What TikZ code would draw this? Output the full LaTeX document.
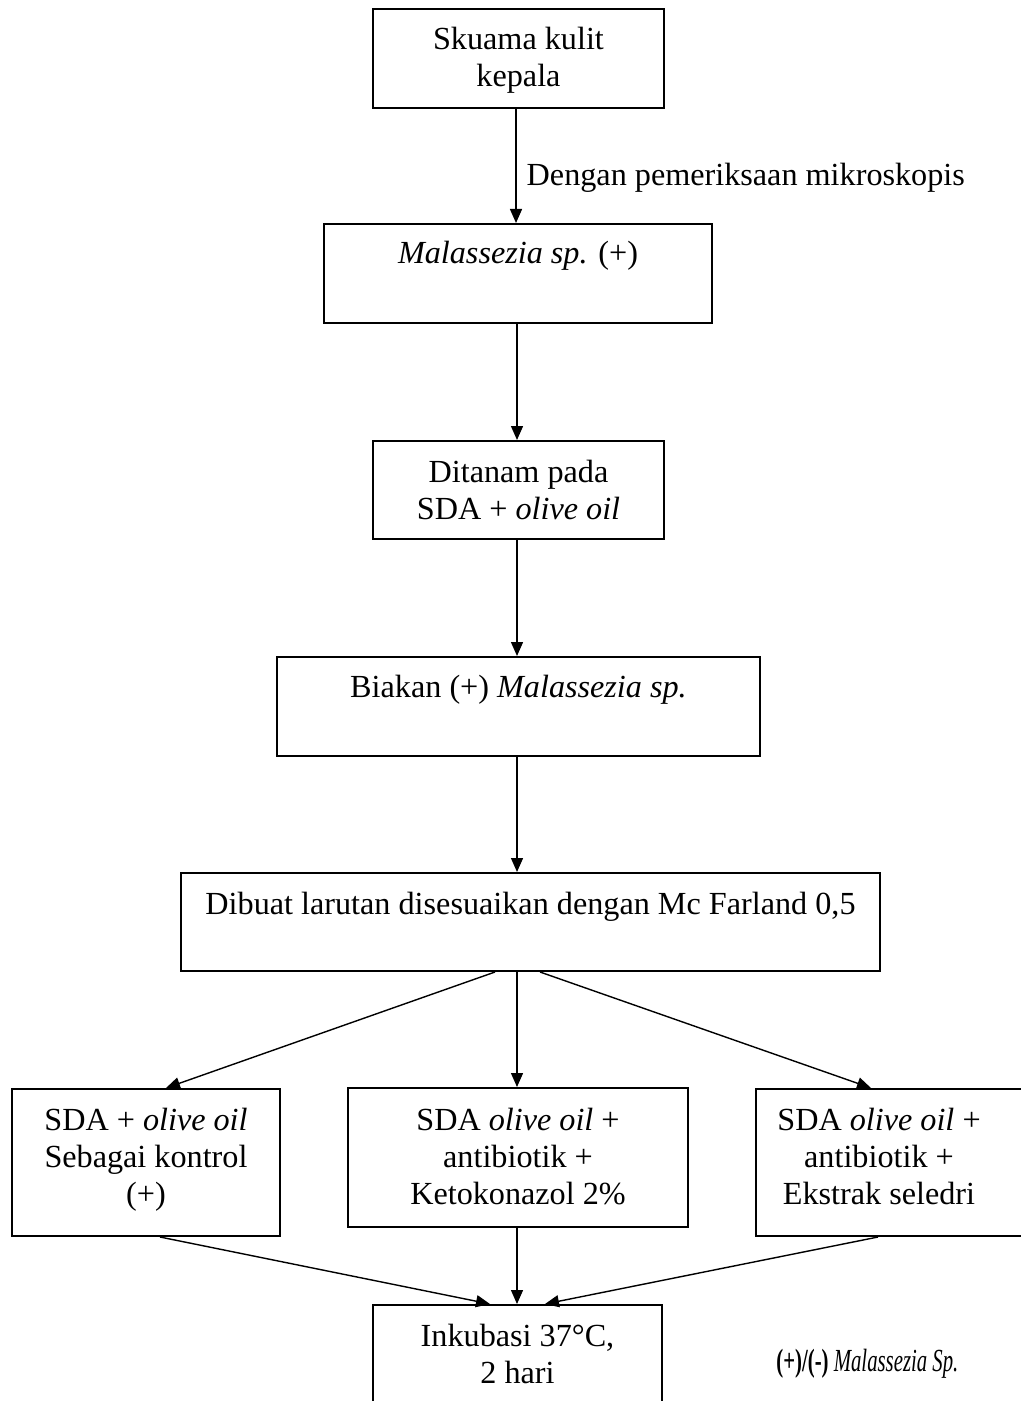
\documentclass[tikz,border=0pt]{standalone}
\usepackage{fontspec}
\usepackage{graphicx}
\setmainfont{Liberation Serif}
\usetikzlibrary{arrows.meta}
\begin{document}
\begin{tikzpicture}[x=0.5pt,y=-0.5pt,
  box/.style={draw, line width=1pt, inner sep=0pt},
  txt/.style={inner sep=0pt, anchor=base, font=\fontsize{16.1}{18.5}\selectfont},
  mtxt/.style={txt, align=flush center, text width=150pt},
  arr/.style={line width=0.7pt, -{Triangle[length=7pt,width=6pt]}}]
\useasboundingbox (0,0) rectangle (1021,1401);
\clip (0,0) rectangle (1021,1401);
% boxes
\node[box, minimum width=145.5pt, minimum height=49.5pt] (A) at (518.5,58.5) {};
\node[box, minimum width=194pt, minimum height=49.5pt] (B) at (518,273.5) {};
\node[box, minimum width=145.5pt, minimum height=49pt] (C) at (518.5,490) {};
\node[box, minimum width=241.5pt, minimum height=49.5pt] (D) at (518.5,706.5) {};
\node[box, minimum width=349.5pt, minimum height=49pt] (E) at (530.5,922) {};
\node[box, minimum width=134pt, minimum height=73.5pt] (F1) at (146,1162.5) {};
\node[box, minimum width=170pt, minimum height=69.5pt] (F2) at (518,1157.5) {};
\node[box, minimum width=139.5pt, minimum height=73.5pt] (F3) at (895.5,1162.5) {};
\node[box, minimum width=144.5pt, minimum height=57.5pt] (G) at (517.5,1362.5) {};
% texts
\node[mtxt] (At) at (518.5,50) {Skuama kulit\\kepala};
\node[txt] (Bt) at (518,264) {\textit{Malassezia sp.} (+)};
\node[mtxt] (Ct) at (518.5,482) {Ditanam pada\\SDA + \textit{olive oil}};
\node[txt] (Dt) at (518.5,697) {Biakan (+) \textit{Malassezia sp.}};
\node[txt] (Et) at (530.5,914) {Dibuat larutan disesuaikan dengan Mc Farland 0,5};
\node[mtxt] (F1t) at (146,1130) {SDA + \textit{olive oil}\\Sebagai kontrol\\(+)};
\node[mtxt] (F2t) at (518,1130) {SDA \textit{olive oil} +\\antibiotik +\\Ketokonazol 2\%};
\node[mtxt] (F3t) at (879,1130) {SDA \textit{olive oil} +\\antibiotik +\\Ekstrak seledri};
\node[mtxt] (Gt) at (517.5,1346) {Inkubasi 37°C,\\2 hari};
\node[txt, anchor=base west] (lab) at (776,1371) {\scalebox{0.645}[1]{\textbf{(+)/(-)} \textit{Malassezia Sp.}}};
% connectors
\draw[arr] ([xshift=-1.25pt]A.south) -- ([xshift=-1pt]B.north)
  node[pos=0.6, anchor=west, inner sep=0pt, xshift=5pt, font=\fontsize{16.1}{18.5}\selectfont] (AB) {Dengan pemeriksaan mikroskopis};
\draw[arr] ([xshift=-0.5pt]B.south) -- ([xshift=-0.75pt]C.north);
\draw[arr] ([xshift=-0.75pt]C.south) -- ([xshift=-0.75pt]D.north);
\draw[arr] ([xshift=-0.75pt]D.south) -- ([xshift=-6.75pt]E.north);
\draw[arr] ([xshift=-17.75pt]E.south) -- ([xshift=10pt]F1.north);
\draw[arr] ([xshift=-6.75pt]E.south) -- ([xshift=-0.5pt]F2.north);
\draw[arr] ([xshift=4.75pt]E.south) -- ([xshift=-12.25pt]F3.north);
\draw[arr] ([xshift=7pt]F1.south) -- ([xshift=-13.75pt]G.north);
\draw[arr] ([xshift=-0.5pt]F2.south) -- ([xshift=-0.25pt]G.north);
\draw[arr] ([xshift=-8.75pt]F3.south) -- ([xshift=13.75pt]G.north);
\end{tikzpicture}
\end{document}
